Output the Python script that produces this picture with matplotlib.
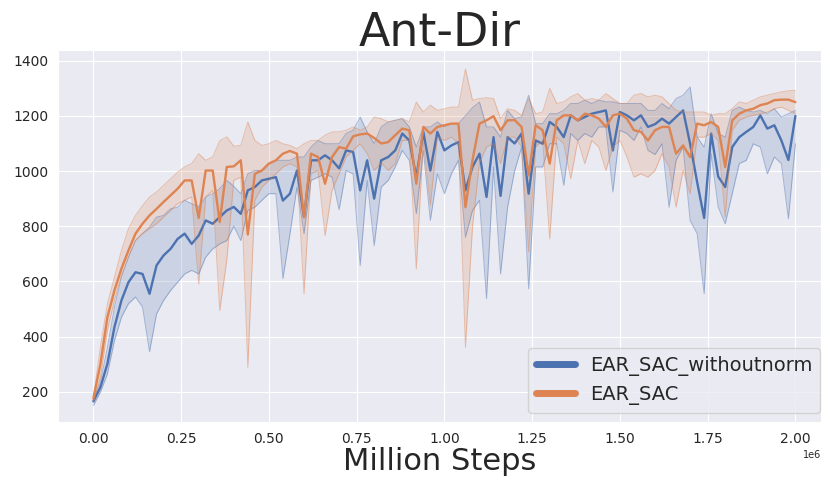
import numpy as np
import matplotlib
matplotlib.use("Agg")
import matplotlib.pyplot as plt
import seaborn as sns

# evaluation every 20k steps, 0 .. 2e6
steps = np.arange(101) * 20000

# EAR_SAC_withoutnorm (blue): mean, lower, upper
wo_mean = [165, 216, 301, 434, 531, 597, 633, 627, 555, 658,
           694, 718, 754, 773, 736, 766, 821, 809, 833, 857,
           870, 845, 930, 942, 966, 972, 978, 893, 918, 1002,
           833, 1039, 1039, 1057, 1039, 1010, 1075, 1069, 930, 1039,
           900, 1039, 1051, 1075, 1136, 1111, 978, 1142, 1002, 1142,
           1075, 1093, 1105, 930, 1015, 1063, 906, 1123, 910, 1123,
           1100, 1136, 918, 1111, 1099, 1178, 1160, 1123, 1202, 1184,
           1196, 1208, 1214, 1220, 1075, 1214, 1202, 1184, 1202, 1160,
           1170, 1190, 1172, 1196, 1220, 1099, 960, 830, 1136, 980,
           942, 1087, 1123, 1142, 1160, 1202, 1154, 1166, 1111, 1040,
           1200]
wo_lo = [150, 198, 264, 385, 470, 519, 543, 507, 345, 482,
         531, 567, 597, 627, 640, 627, 688, 718, 736, 748,
         800, 748, 857, 869, 894, 918, 918, 610, 772, 942,
         773, 966, 978, 990, 978, 860, 1002, 990, 657, 966,
         730, 942, 966, 1015, 1075, 1039, 845, 1075, 821, 990,
         918, 990, 1039, 760, 857, 894, 537, 1015, 627, 869,
         1000, 1087, 573, 1015, 1015, 1099, 1099, 948, 1136, 1111,
         1136, 1123, 1160, 1160, 924, 1148, 1136, 1111, 1160, 1075,
         1060, 1099, 869, 1039, 1087, 821, 773, 555, 1063, 869,
         809, 918, 1027, 1039, 1099, 1087, 990, 1051, 1027, 827,
         1099]
wo_hi = [175, 234, 361, 507, 615, 688, 748, 773, 797, 833,
         839, 863, 869, 894, 882, 870, 906, 918, 936, 966,
         945, 918, 990, 1002, 1002, 1027, 1039, 1039, 1039, 1051,
         1051, 1087, 1111, 1099, 1099, 1099, 1136, 1148, 1196, 1142,
         1100, 1160, 1178, 1184, 1190, 1160, 1087, 1160, 1160, 1178,
         1160, 1172, 1172, 1200, 1230, 1250, 1160, 1160, 1123, 1220,
         1190, 1196, 1275, 1172, 1172, 1208, 1208, 1220, 1245, 1245,
         1257, 1245, 1257, 1251, 1251, 1245, 1245, 1245, 1245, 1220,
         1220, 1245, 1226, 1263, 1275, 1305, 1123, 1087, 1208, 1136,
         1123, 1220, 1232, 1220, 1214, 1220, 1208, 1226, 1196, 1208,
         1220]

# EAR_SAC (orange): mean, lower, upper
sac_mean = [175, 300, 470, 567, 646, 712, 773, 809, 839, 863,
            888, 912, 936, 966, 966, 830, 1002, 1002, 815, 1015,
            1017, 1039, 770, 990, 1002, 1027, 1039, 1063, 1073, 1063,
            833, 1063, 1051, 954, 1051, 1087, 1081, 1126, 1133, 1136,
            1120, 1100, 1105, 1130, 1154, 1148, 954, 1160, 1136, 1160,
            1166, 1172, 1172, 869, 1039, 1172, 1184, 1199, 1148, 1184,
            1185, 1160, 984, 1166, 1148, 1027, 1184, 1202, 1202, 1184,
            1208, 1202, 1190, 1160, 1202, 1208, 1190, 1148, 1142, 1111,
            1148, 1160, 1160, 1063, 1093, 1051, 1172, 1166, 1178, 1160,
            1015, 1184, 1208, 1220, 1226, 1239, 1245, 1257, 1259, 1259,
            1250]
sac_lo = [160, 252, 422, 531, 621, 688, 748, 773, 791, 809,
          833, 857, 882, 894, 906, 590, 906, 930, 494, 676,
          966, 978, 288, 894, 942, 966, 990, 1015, 1027, 1015,
          555, 990, 1002, 766, 930, 990, 1051, 1075, 1099, 1063,
          1002, 1030, 1002, 1027, 1111, 1111, 645, 1111, 875, 1123,
          1111, 1123, 1099, 361, 797, 1030, 1087, 1099, 1027, 1123,
          1123, 1087, 706, 1087, 1111, 754, 1123, 1099, 972, 1111,
          1027, 1111, 1087, 1002, 1087, 1111, 1051, 978, 990, 978,
          1002, 1063, 1015, 869, 1002, 918, 1123, 1123, 1136, 1111,
          833, 1148, 1184, 1196, 1202, 1208, 1214, 1226, 1232, 1220,
          1208]
sac_hi = [180, 361, 519, 615, 712, 791, 839, 875, 906, 924,
          948, 972, 996, 1015, 1027, 1063, 1039, 1051, 1110, 1124,
          1090, 1093, 1178, 1111, 1093, 1099, 1111, 1099, 1093, 1081,
          1099, 1111, 1111, 1130, 1142, 1142, 1148, 1160, 1148, 1160,
          1196, 1190, 1178, 1184, 1190, 1178, 1250, 1214, 1239, 1220,
          1226, 1232, 1232, 1370, 1257, 1263, 1266, 1263, 1190, 1226,
          1220, 1202, 1263, 1208, 1214, 1300, 1245, 1251, 1269, 1281,
          1257, 1263, 1257, 1281, 1263, 1245, 1245, 1275, 1281, 1269,
          1275, 1269, 1245, 1220, 1214, 1214, 1214, 1214, 1202, 1208,
          1208, 1226, 1251, 1245, 1257, 1269, 1275, 1281, 1287, 1291,
          1293]

sns.set_style("darkgrid")
blue, orange = sns.color_palette("deep")[0], sns.color_palette("deep")[1]

fig = plt.figure(figsize=(8.3, 4.98), dpi=100)
ax = fig.add_axes([0.0702, 0.1526, 0.9190, 0.7470])

for mean, lo, hi, c, name in [(wo_mean, wo_lo, wo_hi, blue, "EAR_SAC_withoutnorm"),
                              (sac_mean, sac_lo, sac_hi, orange, "EAR_SAC")]:
    ax.fill_between(steps, lo, hi, color=c, alpha=0.2, linewidth=0)
    # thin band edges
    ax.plot(steps, lo, color=c, alpha=0.45, linewidth=0.7)
    ax.plot(steps, hi, color=c, alpha=0.45, linewidth=0.7)
    ax.plot(steps, mean, color=c, linewidth=1.7, label=name)

ax.set_xlim(-0.1e6, 2.073e6)
ax.set_ylim(90, 1439)
ax.set_yticks(range(200, 1401, 200))
ax.set_xticks(np.arange(0, 2.01e6, 0.25e6))
ax.tick_params(labelsize=10)
ax.xaxis.get_offset_text().set_fontsize(7)

ax.set_title("Ant-Dir", fontsize=33, pad=3)
ax.set_xlabel("Million Steps", fontsize=22, labelpad=1)

leg = ax.legend(loc="lower right", bbox_to_anchor=(0.999, 0.024), borderaxespad=0,
                fontsize=14)
for line in leg.get_lines():
    line.set_linewidth(5)

fig.savefig("out.png", dpi=100)
